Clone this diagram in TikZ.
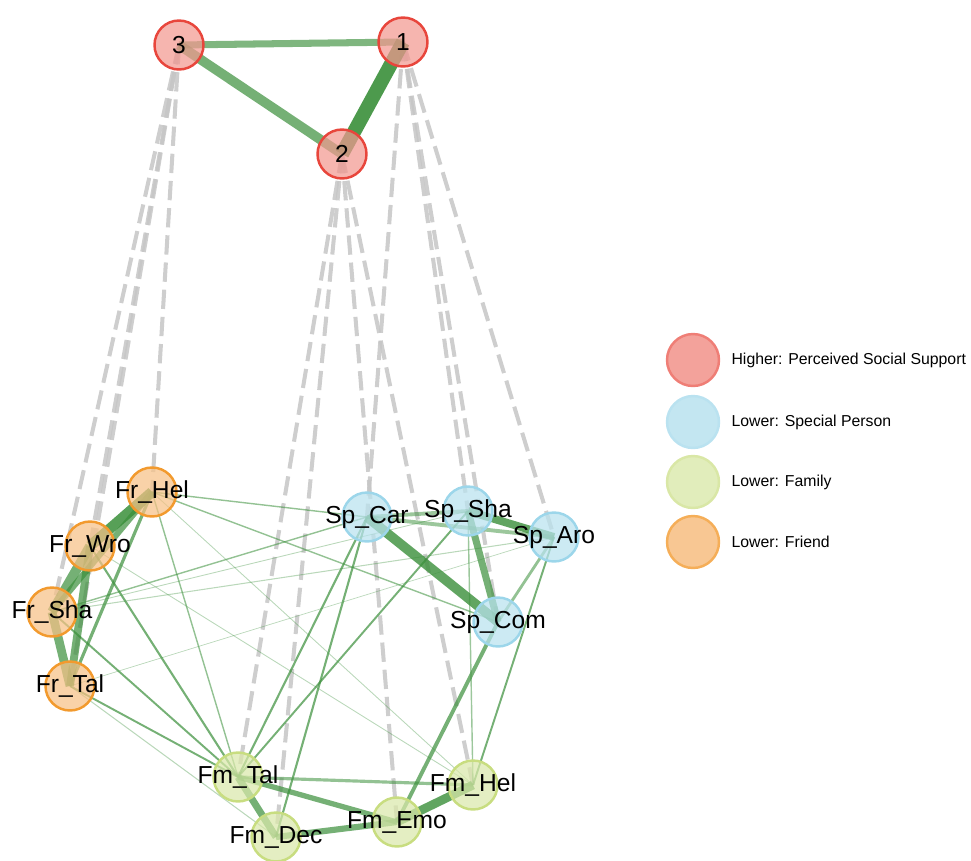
\documentclass[tikz,border=0pt]{standalone}
\usepackage{fontspec}
\setmainfont{Liberation Sans}
\usetikzlibrary{positioning}

\definecolor{hired}{HTML}{F29890}
\definecolor{hiredline}{HTML}{E8463C}
\definecolor{spblue}{HTML}{B9E2EF}
\definecolor{spblueline}{HTML}{9CD6EA}
\definecolor{fmgreen}{HTML}{DAE8AA}
\definecolor{fmgreenline}{HTML}{C8DD80}
\definecolor{frorange}{HTML}{F7C187}
\definecolor{frorangeline}{HTML}{F29A2E}
\definecolor{edgegreen}{HTML}{3A8F3A}

\pgfdeclarelayer{edges}
\pgfsetlayers{edges,main}

% label wider than its circle
\newcommand{\nlab}[1]{\makebox[0pt]{#1}}

\begin{document}
\begin{tikzpicture}[x=0.02cm,y=-0.02cm,
		vert/.style={circle,line width=1.4pt,minimum size=0.98cm,inner sep=0pt,fill opacity=0.72,text opacity=1,font=\fontsize{14}{16}\selectfont},
		hi/.style={vert,fill=hired,draw=hiredline},
		sp/.style={vert,fill=spblue,draw=spblueline},
		fm/.style={vert,fill=fmgreen,draw=fmgreenline},
		fr/.style={vert,fill=frorange,draw=frorangeline},
		posedge/.style={draw=edgegreen,line width=#1,draw opacity=0.7},
		faint/.style={draw=edgegreen,line width=#1,draw opacity=0.35},
		negedge/.style={draw=gray!45,line width=2.3pt,dash pattern=on 11pt off 4.5pt,draw opacity=0.85},
		legdot/.style={circle,line width=1.4pt,minimum size=1.04cm,inner sep=0pt},
		legtext/.style={right=0.22cm of #1,inner sep=0pt,font=\fontsize{9}{11}\selectfont}]
	\useasboundingbox (0,0) rectangle (971,860);

	% higher order nodes
	\node[hi] (n3) at (179,45) {3};
	\node[hi] (n1) at (403,42) {1};
	\node[hi] (n2) at (342,154) {2};

	% friend
	\node[fr] (frhel) at (152,492) {\nlab{Fr\_Hel}};
	\node[fr] (frwro) at (90,546) {\nlab{Fr\_Wro}};
	\node[fr] (frsha) at (52,612) {\nlab{Fr\_Sha}};
	\node[fr] (frtal) at (70,686) {\nlab{Fr\_Tal}};

	% special person
	\node[sp] (spcar) at (367,517) {\nlab{Sp\_Car}};
	\node[sp] (spsha) at (468,511) {\nlab{Sp\_Sha}};
	\node[sp] (sparo) at (554,537) {\nlab{Sp\_Aro}};
	\node[sp] (spcom) at (498,622) {\nlab{Sp\_Com}};

	% family
	\node[fm] (fmtal) at (238,777) {\nlab{Fm\_Tal}};
	\node[fm] (fmdec) at (276,837) {\nlab{Fm\_Dec}};
	\node[fm] (fmemo) at (397,822) {\nlab{Fm\_Emo}};
	\node[fm] (fmhel) at (473,785) {\nlab{Fm\_Hel}};

	\begin{pgfonlayer}{edges}
		% negative edges
		\draw[negedge] (n3.center) -- (frhel.center);
		\draw[negedge] (n3.center) -- (frwro.center);
		\draw[negedge] (n3.center) -- (frsha.center);
		\draw[negedge] (n3.center) -- (frtal.center);
		\draw[negedge] (n2.center) -- (fmtal.center);
		\draw[negedge] (n2.center) -- (fmdec.center);
		\draw[negedge] (n2.center) -- (fmemo.center);
		\draw[negedge] (n2.center) -- (fmhel.center);
		\draw[negedge] (n1.center) -- (spcar.center);
		\draw[negedge] (n1.center) -- (spsha.center);
		\draw[negedge] (n1.center) -- (spcom.center);
		\draw[negedge] (n1.center) -- (sparo.center);

		% top triangle
		\draw[posedge=8pt,draw opacity=0.9] (n1.center) -- (n2.center);
		\draw[posedge=5.5pt] (n3.center) -- (n2.center);
		\draw[posedge=4pt,draw opacity=0.65] (n3.center) -- (n1.center);

		% within clusters
		\draw[posedge=6pt,draw opacity=0.85] (frhel.center) -- (frwro.center);
		\draw[posedge=5.5pt] (frwro.center) -- (frsha.center);
		\draw[posedge=5pt] (frsha.center) -- (frtal.center);
		\draw[posedge=4.5pt] (frwro.center) -- (frtal.center);
		\draw[posedge=3.5pt] (frhel.center) -- (frsha.center);
		\draw[posedge=1.8pt] (frhel.center) -- (frtal.center);

		\draw[posedge=5.5pt,draw opacity=0.8] (spcar.center) -- (spcom.center);
		\draw[posedge=4.5pt,draw opacity=0.8] (spsha.center) -- (sparo.center);
		\draw[posedge=4pt] (spsha.center) -- (spcom.center);
		\draw[posedge=2.2pt,draw opacity=0.5] (spcar.center) -- (spsha.center);
		\draw[posedge=2.2pt,draw opacity=0.5] (spcar.center) -- (sparo.center);
		\draw[posedge=1.6pt,draw opacity=0.55] (sparo.center) -- (spcom.center);

		\draw[posedge=4pt] (fmtal.center) -- (fmdec.center);
		\draw[posedge=3.5pt] (fmdec.center) -- (fmemo.center);
		\draw[posedge=5pt,draw opacity=0.8] (fmemo.center) -- (fmhel.center);
		\draw[posedge=3pt] (fmtal.center) -- (fmemo.center);
		\draw[posedge=1.8pt,draw opacity=0.55] (fmtal.center) -- (fmhel.center);

		% between clusters
		\draw[posedge=2.2pt] (spcom.center) -- (fmemo.center);
		\draw[posedge=1.2pt] (spcar.center) -- (fmtal.center);
		\draw[posedge=1.2pt] (spcar.center) -- (fmdec.center);
		\draw[posedge=1.1pt] (spsha.center) -- (fmtal.center);
		\draw[posedge=0.8pt,draw opacity=0.5] (spsha.center) -- (fmhel.center);
		\draw[posedge=1.1pt] (sparo.center) -- (fmhel.center);
		\draw[posedge=0.8pt,draw opacity=0.55] (frhel.center) -- (spcar.center);
		\draw[posedge=0.8pt,draw opacity=0.55] (frhel.center) -- (spcom.center);
		\draw[posedge=0.8pt,draw opacity=0.55] (frhel.center) -- (fmtal.center);
		\draw[posedge=1.2pt] (frwro.center) -- (fmtal.center);
		\draw[posedge=0.8pt,draw opacity=0.55] (frsha.center) -- (spcar.center);
		\draw[posedge=1.1pt] (frsha.center) -- (fmtal.center);
		\draw[posedge=1.1pt] (frtal.center) -- (fmtal.center);
		\draw[faint=0.5pt] (frhel.center) -- (fmhel.center);
		\draw[faint=0.5pt] (frwro.center) -- (fmhel.center);
		\draw[faint=0.6pt] (frsha.center) -- (sparo.center);
		\draw[faint=0.5pt] (frsha.center) -- (spsha.center);
		\draw[faint=0.6pt] (frtal.center) -- (fmdec.center);
		\draw[faint=0.4pt] (frtal.center) -- (sparo.center);
	\end{pgfonlayer}

	% legend
	\node[legdot,fill=hired!90,draw=hiredline!70] (leghi) at (693,360) {};
	\node[legdot,fill=spblue!85,draw=spblueline!70] (legsp) at (693,422) {};
	\node[legdot,fill=fmgreen!80,draw=fmgreenline!70] (legfm) at (693,482) {};
	\node[legdot,fill=frorange!90,draw=frorangeline!80] (legfr) at (693,542) {};
	\node[legtext=leghi] {Higher: Perceived Social Support};
	\node[legtext=legsp] {Lower: Special Person};
	\node[legtext=legfm] {Lower: Family};
	\node[legtext=legfr] {Lower: Friend};
\end{tikzpicture}
\end{document}
